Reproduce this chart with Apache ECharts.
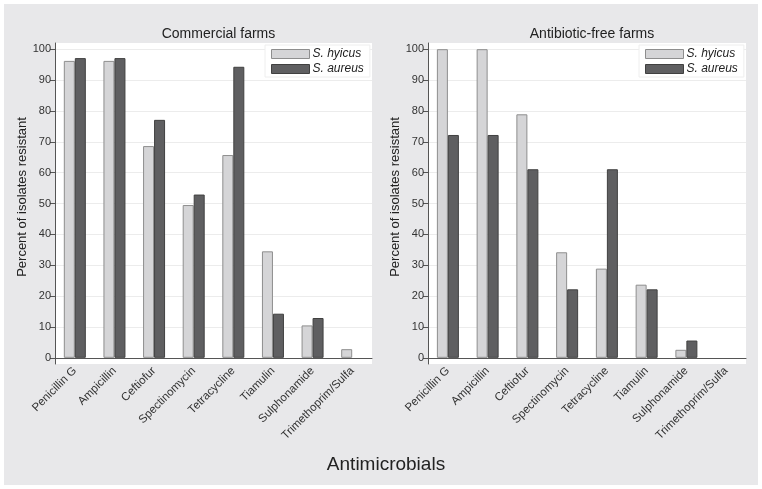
<!DOCTYPE html>
<html>
<head>
<meta charset="utf-8">
<script src="https://cdn.jsdelivr.net/npm/echarts@6/dist/echarts.min.js"></script>
<style>
html,body{margin:0;padding:0;background:#fff;}
#chart{width:762px;height:489px;}
</style>
</head>
<body>
<div id="chart"></div>
<script>
var categories = ['Penicillin G', 'Ampicillin', 'Ceftiofur', 'Spectinomycin', 'Tetracycline', 'Tiamulin', 'Sulphonamide', 'Trimethoprim/Sulfa'];
var seriesNames = ['S. hyicus', 'S. aureus'];
var panelTitles = ['Commercial farms', 'Antibiotic-free farms'];
var commercialHyicus = [96.2, 96.2, 68.6, 49.5, 65.7, 34.5, 10.5, 2.8];
var commercialAureus = [97.1, 97.1, 77.1, 52.9, 94.3, 14.3, 12.9, 0];
var freeHyicus = [100, 100, 78.9, 34.2, 28.9, 23.7, 2.6, 0];
var freeAureus = [72.2, 72.2, 61.1, 22.2, 61.1, 22.2, 5.6, 0];
var yTicks = [0, 10, 20, 30, 40, 50, 60, 70, 80, 90, 100];
var xAxisTitle = 'Antimicrobials';
var yAxisTitle = 'Percent of isolates resistant';

var chart = echarts.init(document.getElementById('chart'), null, {renderer: 'canvas'});
var FONT = 'Liberation Sans, Arial, sans-serif';
var lightStyle = {color: '#d5d5d7', borderColor: '#8e8e8e', borderWidth: 1};
var darkStyle = {color: '#5f5f61', borderColor: '#404040', borderWidth: 1};
var grids = [
  {left: 55, top: 43, width: 317, height: 321},
  {left: 428, top: 43, width: 318, height: 321}
];
function xAxisFor(i) {
  return {
    type: 'category', gridIndex: i, data: categories,
    boundaryGap: true,
    axisLine: {lineStyle: {color: '#555', width: 1}},
    axisTick: {alignWithLabel: true, length: 4, lineStyle: {color: '#555'}},
    axisLabel: {rotate: 45, fontSize: 11.5, color: '#333', fontFamily: FONT, margin: 5, interval: 0},
    splitLine: {show: false}
  };
}
function yAxisFor(i) {
  return {
    type: 'value', gridIndex: i, min: -2, max: 102, interval: 10,
    name: yAxisTitle, nameLocation: 'middle', nameRotate: 90, nameGap: 25,
    nameTextStyle: {fontSize: 13, color: '#222', fontFamily: FONT, padding: [0, 0, 0, 13]},
    axisLine: {show: true, lineStyle: {color: '#555', width: 1}},
    axisTick: {show: true, length: 5, lineStyle: {color: '#555'}, customValues: yTicks},
    axisLabel: {fontSize: 11, color: '#333', fontFamily: FONT, margin: 4, customValues: yTicks},
    splitLine: {show: true, lineStyle: {color: '#ececec', width: 1}, customValues: yTicks}
  };
}
function legendFor(i) {
  var g = grids[i];
  return {
    orient: 'vertical', left: g.left + g.width - 107, top: 45,
    data: seriesNames, itemWidth: 38, itemHeight: 9, itemGap: 3,
    backgroundColor: '#fff', borderColor: '#eeeeee', borderWidth: 1,
    padding: [3, 6, 2, 6], itemStyle: {borderWidth: 1},
    textStyle: {fontSize: 12, fontStyle: 'italic', color: '#222', fontFamily: FONT, padding: [0, 0, 0, -2]},
    selectedMode: false, icon: 'rect'
  };
}
function toItems(arr) {
  return arr.map(function (v) { return v === 0 ? {value: v, itemStyle: {borderWidth: 0, opacity: 0}} : v; });
}
function bar(name, data, i, style) {
  return {name: name, type: 'bar', xAxisIndex: i, yAxisIndex: i, data: toItems(data),
    barWidth: 11, barGap: '0%', itemStyle: style, emphasis: {disabled: true}};
}
var option = {
  animation: false,
  backgroundColor: '#fff',
  graphic: [{type: 'rect', z: -10, silent: true, shape: {x: 4, y: 4, width: 754, height: 481}, style: {fill: '#e8e8ea'}}],
  title: [
    {text: panelTitles[0], left: grids[0].left + grids[0].width / 2, textAlign: 'center', top: 22, textStyle: {fontSize: 14, fontWeight: 'normal', color: '#222', fontFamily: FONT}},
    {text: panelTitles[1], left: grids[1].left + grids[1].width / 2, textAlign: 'center', top: 22, textStyle: {fontSize: 14, fontWeight: 'normal', color: '#222', fontFamily: FONT}},
    {text: xAxisTitle, left: 381, textAlign: 'center', top: 450, textStyle: {fontSize: 19, fontWeight: 'normal', color: '#222', fontFamily: FONT}}
  ],
  grid: grids.map(function (g) { return Object.assign({show: true, backgroundColor: '#fff', borderWidth: 0}, g); }),
  legend: [legendFor(0), legendFor(1)],
  xAxis: [xAxisFor(0), xAxisFor(1)],
  yAxis: [yAxisFor(0), yAxisFor(1)],
  series: [
    bar(seriesNames[0], commercialHyicus, 0, lightStyle),
    bar(seriesNames[1], commercialAureus, 0, darkStyle),
    bar(seriesNames[0], freeHyicus, 1, lightStyle),
    bar(seriesNames[1], freeAureus, 1, darkStyle)
  ]
};
chart.setOption(option);
</script>
</body>
</html>
